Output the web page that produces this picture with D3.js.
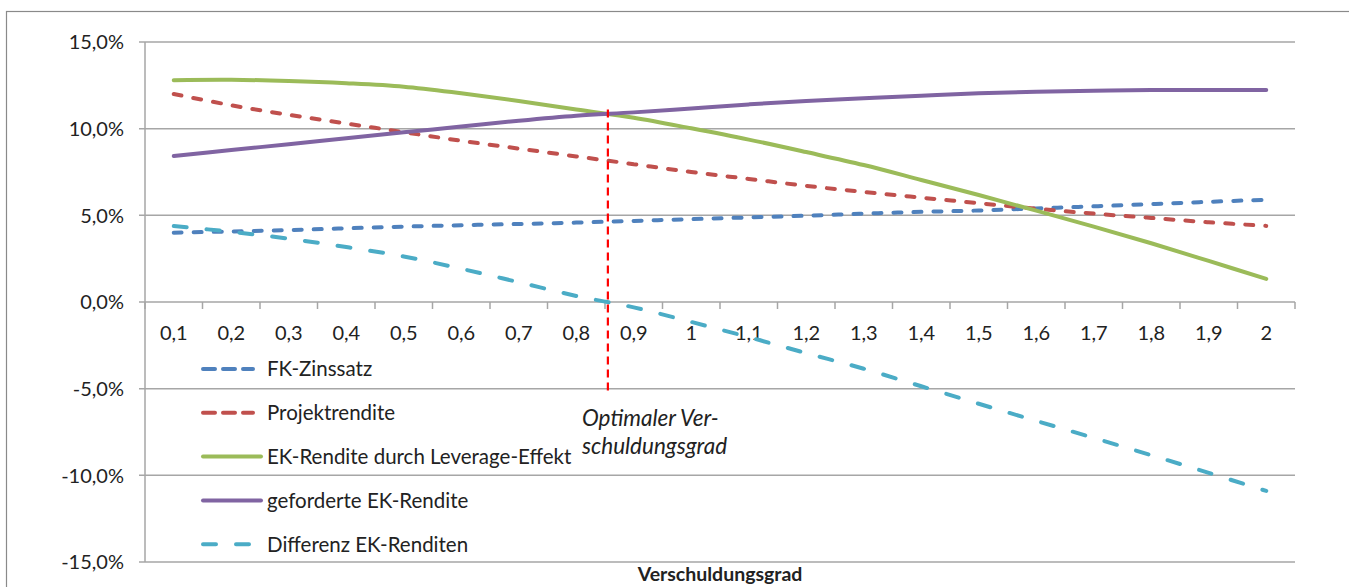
<!DOCTYPE html>
<html>
<head>
<meta charset="utf-8">
<script src="https://cdn.jsdelivr.net/npm/d3@7"></script>
<style>
  body { margin: 0; background: #fff; }
  text { font-family: Lato, "Open Sans", sans-serif; fill: #222; }
</style>
</head>
<body>
<div id="chart"></div>
<script>
// categories (Verschuldungsgrad)
const categories = ["0,1", "0,2", "0,3", "0,4", "0,5", "0,6", "0,7", "0,8", "0,9", "1",
    "1,1", "1,2", "1,3", "1,4", "1,5", "1,6", "1,7", "1,8", "1,9", "2"];
// values in percent
const fkZins = [4.0, 4.07, 4.15, 4.25, 4.35, 4.43, 4.5, 4.58, 4.68, 4.78,
    4.88, 4.98, 5.1, 5.2, 5.28, 5.4, 5.52, 5.65, 5.78, 5.9];
const projektRendite = [12.0, 11.35, 10.8, 10.3, 9.8, 9.3, 8.85, 8.4, 7.95, 7.5,
    7.1, 6.7, 6.35, 6.02, 5.7, 5.38, 5.1, 4.85, 4.6, 4.39];
const ekLeverage = [12.8, 12.82, 12.75, 12.62, 12.42, 12.04, 11.6, 11.1, 10.63, 10.02,
    9.37, 8.65, 7.9, 7.04, 6.17, 5.27, 4.35, 3.39, 2.37, 1.33];
const ekGefordert = [8.42, 8.77, 9.1, 9.45, 9.79, 10.12, 10.46, 10.75, 10.94, 11.17,
    11.4, 11.6, 11.75, 11.9, 12.04, 12.13, 12.19, 12.23, 12.23, 12.23];
const differenz = [4.38, 4.05, 3.65, 3.17, 2.63, 1.92, 1.14, 0.35, -0.31, -1.15,
    -2.03, -2.95, -3.85, -4.86, -5.87, -6.86, -7.84, -8.84, -9.86, -10.9];
const yTicks = [15, 10, 5, 0, -5, -10, -15];
const optimum = 0.855; // optimaler Verschuldungsgrad
const optimumRange = [11.1, -5.4];

const series = [
    { name: "FK-Zinssatz", values: fkZins, color: "#4f81bd", dash: "8,12" },
    { name: "Projektrendite", values: projektRendite, color: "#c0504d", dash: "8,12" },
    { name: "EK-Rendite durch Leverage-Effekt", values: ekLeverage, color: "#9bbb59", dash: null },
    { name: "geforderte EK-Rendite", values: ekGefordert, color: "#8064a2", dash: null },
    { name: "Differenz EK-Renditen", values: differenz, color: "#4bacc6", dash: "13,20" }
];

const W = 1349, H = 587;
const margin = { top: 42, left: 145 };
const plotW = 1295 - margin.left;
const plotH = 562 - margin.top;

const svg = d3.select("#chart").append("svg")
    .attr("width", W)
    .attr("height", H);

// outer frame
svg.append("rect")
    .attr("x", 6.5).attr("y", 11.5)
    .attr("width", 1500).attr("height", 800)
    .attr("fill", "none")
    .attr("stroke", "#8a8a8a")
    .attr("stroke-width", 1.2);

const g = svg.append("g")
    .attr("transform", "translate(" + margin.left + "," + margin.top + ")");

const x = d3.scaleBand().domain(categories).range([0, plotW]);
const y = d3.scaleLinear().domain([-15, 15]).range([plotH, 0]);
// numeric x scale for the optimum marker
const xNum = d3.scaleLinear().domain([0.1, 2])
    .range([x.bandwidth() / 2, plotW - x.bandwidth() / 2]);

// horizontal grid lines
g.append("g").selectAll("line")
    .data(yTicks)
    .enter().append("line")
    .attr("x1", -6).attr("x2", plotW)
    .attr("y1", d => y(d)).attr("y2", d => y(d))
    .attr("stroke", "#a6a6a6")
    .attr("stroke-width", 1.5);

// y axis line
g.append("line")
    .attr("x1", 0).attr("x2", 0)
    .attr("y1", 0).attr("y2", plotH)
    .attr("stroke", "#a6a6a6")
    .attr("stroke-width", 1.5);

// y labels
g.append("g").selectAll("text")
    .data(yTicks)
    .enter().append("text")
    .attr("x", -21)
    .attr("y", d => y(d))
    .attr("dy", "0.36em")
    .attr("text-anchor", "end")
    .attr("font-size", 20)
    .text(d => d3.format(".1f")(d).replace(".", ",").replace("−", "-") + "%");

// x axis at 0 with tick marks between categories
const xAxis = g.append("g").attr("transform", "translate(0," + y(0) + ")");
xAxis.selectAll("line.tick")
    .data(d3.range(categories.length + 1))
    .enter().append("line")
    .attr("class", "tick")
    .attr("x1", i => i * x.step()).attr("x2", i => i * x.step())
    .attr("y1", 0).attr("y2", 7)
    .attr("stroke", "#a6a6a6")
    .attr("stroke-width", 1.5);
xAxis.selectAll("text")
    .data(categories)
    .enter().append("text")
    .attr("x", d => x(d) + x.bandwidth() / 2)
    .attr("y", 38)
    .attr("text-anchor", "middle")
    .attr("font-size", 20)
    .text(d => d);

// axis title
svg.append("text")
    .attr("x", margin.left + plotW / 2)
    .attr("y", 581)
    .attr("text-anchor", "middle")
    .attr("font-size", 19.5)
    .attr("font-weight", "bold")
    .text("Verschuldungsgrad");

// series lines
const line = d3.line()
    .x((d, i) => x(categories[i]) + x.bandwidth() / 2)
    .y(d => y(d))
    .curve(d3.curveCatmullRom);

series.forEach(s => {
    g.append("path")
        .attr("d", line(s.values))
        .attr("fill", "none")
        .attr("stroke", s.color)
        .attr("stroke-width", 4)
        .attr("stroke-linecap", "round")
        .attr("stroke-dasharray", s.dash);
});

// optimum marker
g.append("line")
    .attr("x1", xNum(optimum)).attr("x2", xNum(optimum))
    .attr("y1", y(optimumRange[0])).attr("y2", y(optimumRange[1]))
    .attr("stroke", "#ff0000")
    .attr("stroke-width", 2.2)
    .attr("stroke-dasharray", "8,5");

const note = svg.append("text")
    .attr("font-size", 22.5)
    .attr("font-style", "italic");
note.append("tspan").attr("x", 582).attr("y", 426).text("Optimaler Ver-");
note.append("tspan").attr("x", 582).attr("y", 454).text("schuldungsgrad");

// legend
const legend = svg.append("g").attr("transform", "translate(201,369)");
series.forEach((s, i) => {
    const row = legend.append("g").attr("transform", "translate(0," + (i * 43.8) + ")");
    row.append("line")
        .attr("x1", 2).attr("x2", s.dash ? 52 : 60)
        .attr("y1", 0).attr("y2", 0)
        .attr("stroke", s.color)
        .attr("stroke-width", 4)
        .attr("stroke-linecap", "round")
        .attr("stroke-dasharray", s.dash === "8,12" ? "12,8" : (s.dash ? "13,20" : null));
    row.append("text")
        .attr("x", 66)
        .attr("y", 0)
        .attr("dy", "0.36em")
        .attr("font-size", 20.5)
        .text(s.name);
});
</script>
</body>
</html>
